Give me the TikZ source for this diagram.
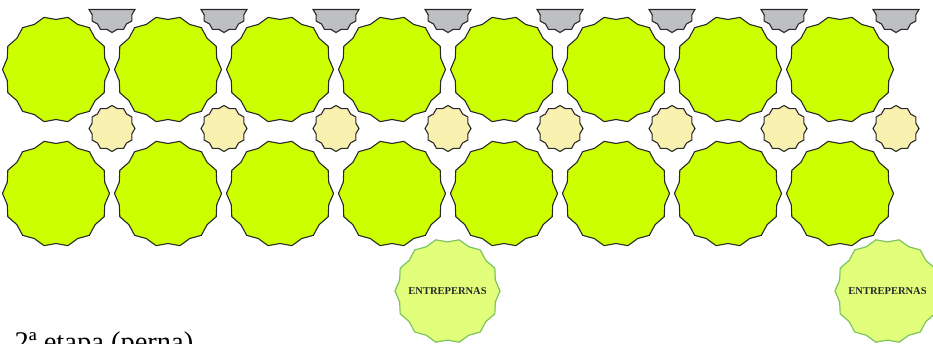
\documentclass[tikz,border=0pt]{standalone}
\usepackage{fontspec}
\setmainfont{Liberation Serif}
\usetikzlibrary{shapes.geometric}

\definecolor{padgreen}{RGB}{204,255,0}
\definecolor{padyellow}{RGB}{249,241,176}
\definecolor{padgray}{RGB}{190,191,195}
\definecolor{legfill}{RGB}{226,255,124}
\definecolor{legline}{RGB}{124,196,92}
\definecolor{edge}{RGB}{40,40,40}

\begin{document}
\begin{tikzpicture}
		[x=1pt, y=-1pt,
		bigpad/.style={star, star points=14, star point ratio=1.07, shape border rotate=12.857,
		  minimum size=107pt, inner sep=0pt, draw=edge, line width=1.1pt, fill=padgreen},
		smallpad/.style={star, star points=12, star point ratio=1.12,
		  minimum size=46pt, inner sep=0pt, draw=edge, line width=1.1pt, fill=padyellow},
		tray/.style={draw=edge, line width=1.1pt, fill=padgray, line join=miter},
		legpad/.style={star, star points=14, star point ratio=1.07, shape border rotate=12.857,
		  minimum size=105pt, inner sep=0pt, draw=legline, line width=1.2pt, fill=legfill},
		legtext/.style={font=\fontsize{10.5}{12}\selectfont\bfseries, text=edge}
		]
        \useasboundingbox (0,0) rectangle (933,344);

        % Main block
        \def \dx {112}
        \def \ya {69.5}
        \def \yb {193.5}
        \foreach \k in {0,...,7} {
          \node[bigpad] (up\k) at (56+\dx*\k,\ya) {};
          \node[bigpad] (low\k) at (56+\dx*\k,\yb) {};
        }

        %draw the small pads between the rows
        \foreach \k in {0,...,7} {
          \node[smallpad] (mid\k) at (112+\dx*\k,128.5) {};
        }

        %draw the half pads on the top edge
        \foreach \k in {0,...,7} {
          \draw[tray,shift={(112+\dx*\k,9.5)}] (0:23)
            \foreach \a in {15,45,...,165} { -- (\a:20.5) -- ({\a+15}:23) } -- cycle;
        }

        % Entrepernas
        \node[legpad] (leg1) at (447.5,291) {};
        \node[legtext] (leg1text) at (leg1.center) {ENTREPERNAS};
        \node[legpad] (leg2) at (887.5,291) {};
        \node[legtext] (leg2text) at (leg2.center) {ENTREPERNAS};

        \node[anchor=base west, font=\fontsize{28.5}{32}\selectfont] (stage) at (11,351) {2ª etapa (perna)};
\end{tikzpicture}
\end{document}
